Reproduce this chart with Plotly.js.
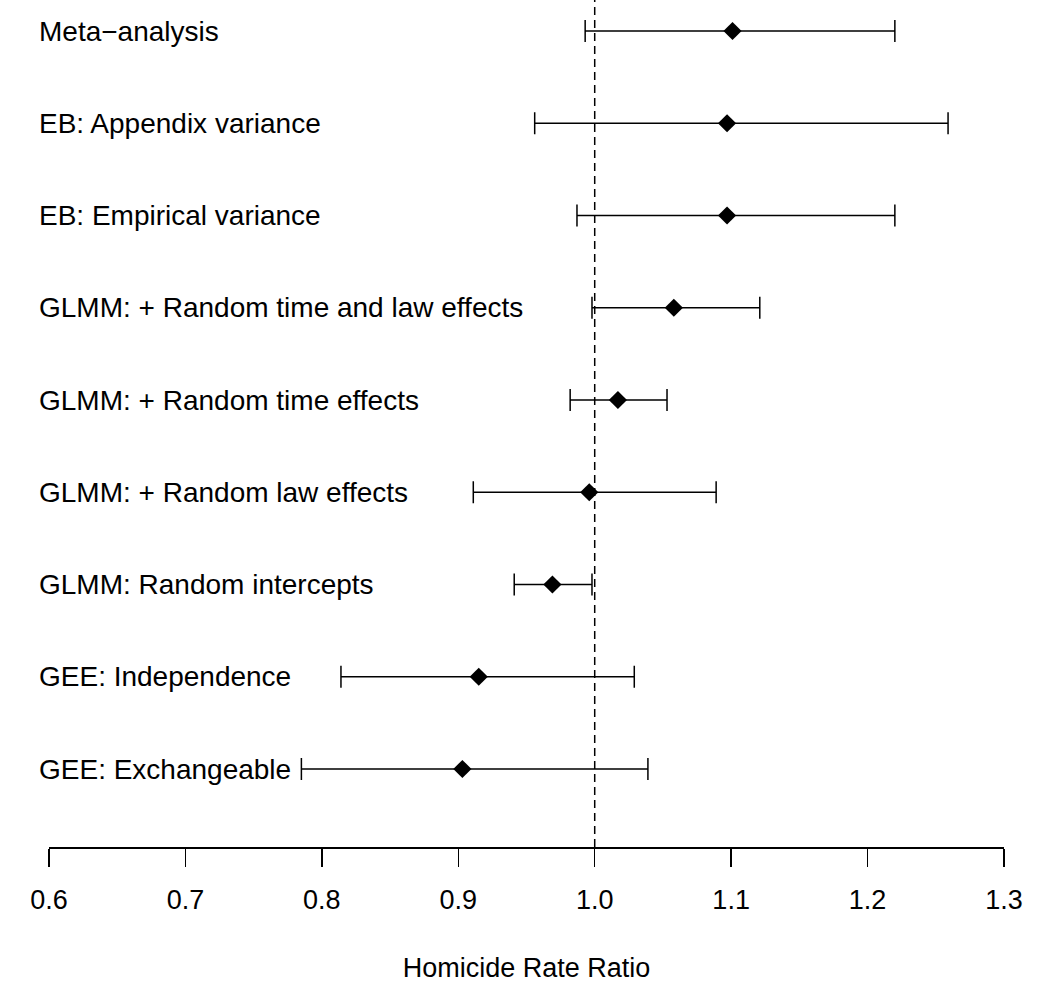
<!DOCTYPE html>
<html>
<head>
<meta charset="utf-8">
<script src="https://cdn.plot.ly/plotly-3.0.1.min.js"></script>
<style>
  html, body { margin: 0; padding: 0; background: #fff; }
  #plotArea { width: 1050px; height: 1007px; }
</style>
</head>
<body>
<div id="plotArea"></div>
<script>
// models, top to bottom
var models = ["Meta\u2212analysis", "EB: Appendix variance", "EB: Empirical variance",
    "GLMM: + Random time and law effects", "GLMM: + Random time effects",
    "GLMM: + Random law effects", "GLMM: Random intercepts",
    "GEE: Independence", "GEE: Exchangeable"];
var estimate = [1.101, 1.097, 1.097, 1.058, 1.017, 0.996, 0.969, 0.915, 0.903];
var lower    = [0.993, 0.956, 0.987, 0.998, 0.982, 0.911, 0.941, 0.814, 0.785];
var upper    = [1.220, 1.259, 1.220, 1.121, 1.053, 1.089, 0.998, 1.029, 1.039];
var xTicks = [0.6, 0.7, 0.8, 0.9, 1.0, 1.1, 1.2, 1.3];
var xTickText = ["0.6", "0.7", "0.8", "0.9", "1.0", "1.1", "1.2", "1.3"];

var font = "Liberation Sans, Arial, Helvetica, sans-serif";

var trace = {
    x: estimate,
    y: models,
    type: "scatter",
    mode: "markers",
    marker: {symbol: "diamond", size: 14, color: "black"},
    error_x: {
        type: "data",
        symmetric: false,
        array: upper.map(function(u, i) { return u - estimate[i]; }),
        arrayminus: lower.map(function(l, i) { return estimate[i] - l; }),
        color: "black",
        thickness: 1.5,
        width: 11
    },
    hoverinfo: "x+y"
};

var labels = models.map(function(m) {
    return {
        text: m, xref: "paper", x: -12 / 955, xanchor: "left",
        yref: "y", y: m, yanchor: "middle", showarrow: false,
        font: {family: font, size: 28, color: "black"}
    };
});

var layout = {
    width: 1050,
    height: 1007,
    margin: {l: 49, r: 46, t: 0, b: 160},
    paper_bgcolor: "white",
    plot_bgcolor: "white",
    showlegend: false,
    font: {family: font, size: 27, color: "black"},
    xaxis: {
        range: [0.6, 1.3],
        tickvals: xTicks,
        ticktext: xTickText,
        ticks: "outside",
        ticklen: 18,
        tickwidth: 1.5,
        tickcolor: "black",
        ticklabelstandoff: 10,
        showline: true,
        linewidth: 1.5,
        linecolor: "black",
        showgrid: false,
        zeroline: false,
        title: {text: "Homicide Rate Ratio", standoff: 44, font: {family: font, size: 27}}
    },
    yaxis: {
        type: "category",
        categoryorder: "array",
        categoryarray: models.slice().reverse(),
        range: [-0.8455, 8.336],
        showticklabels: false,
        ticks: "",
        showline: false,
        showgrid: false,
        zeroline: false
    },
    shapes: [{
        type: "line", xref: "x", yref: "paper",
        x0: 1.0, x1: 1.0, y0: 0, y1: 1,
        line: {color: "black", width: 1.5, dash: "8px,5px"}
    }],
    annotations: labels
};

Plotly.newPlot("plotArea", [trace], layout, {displayModeBar: false, staticPlot: true});
</script>
</body>
</html>
